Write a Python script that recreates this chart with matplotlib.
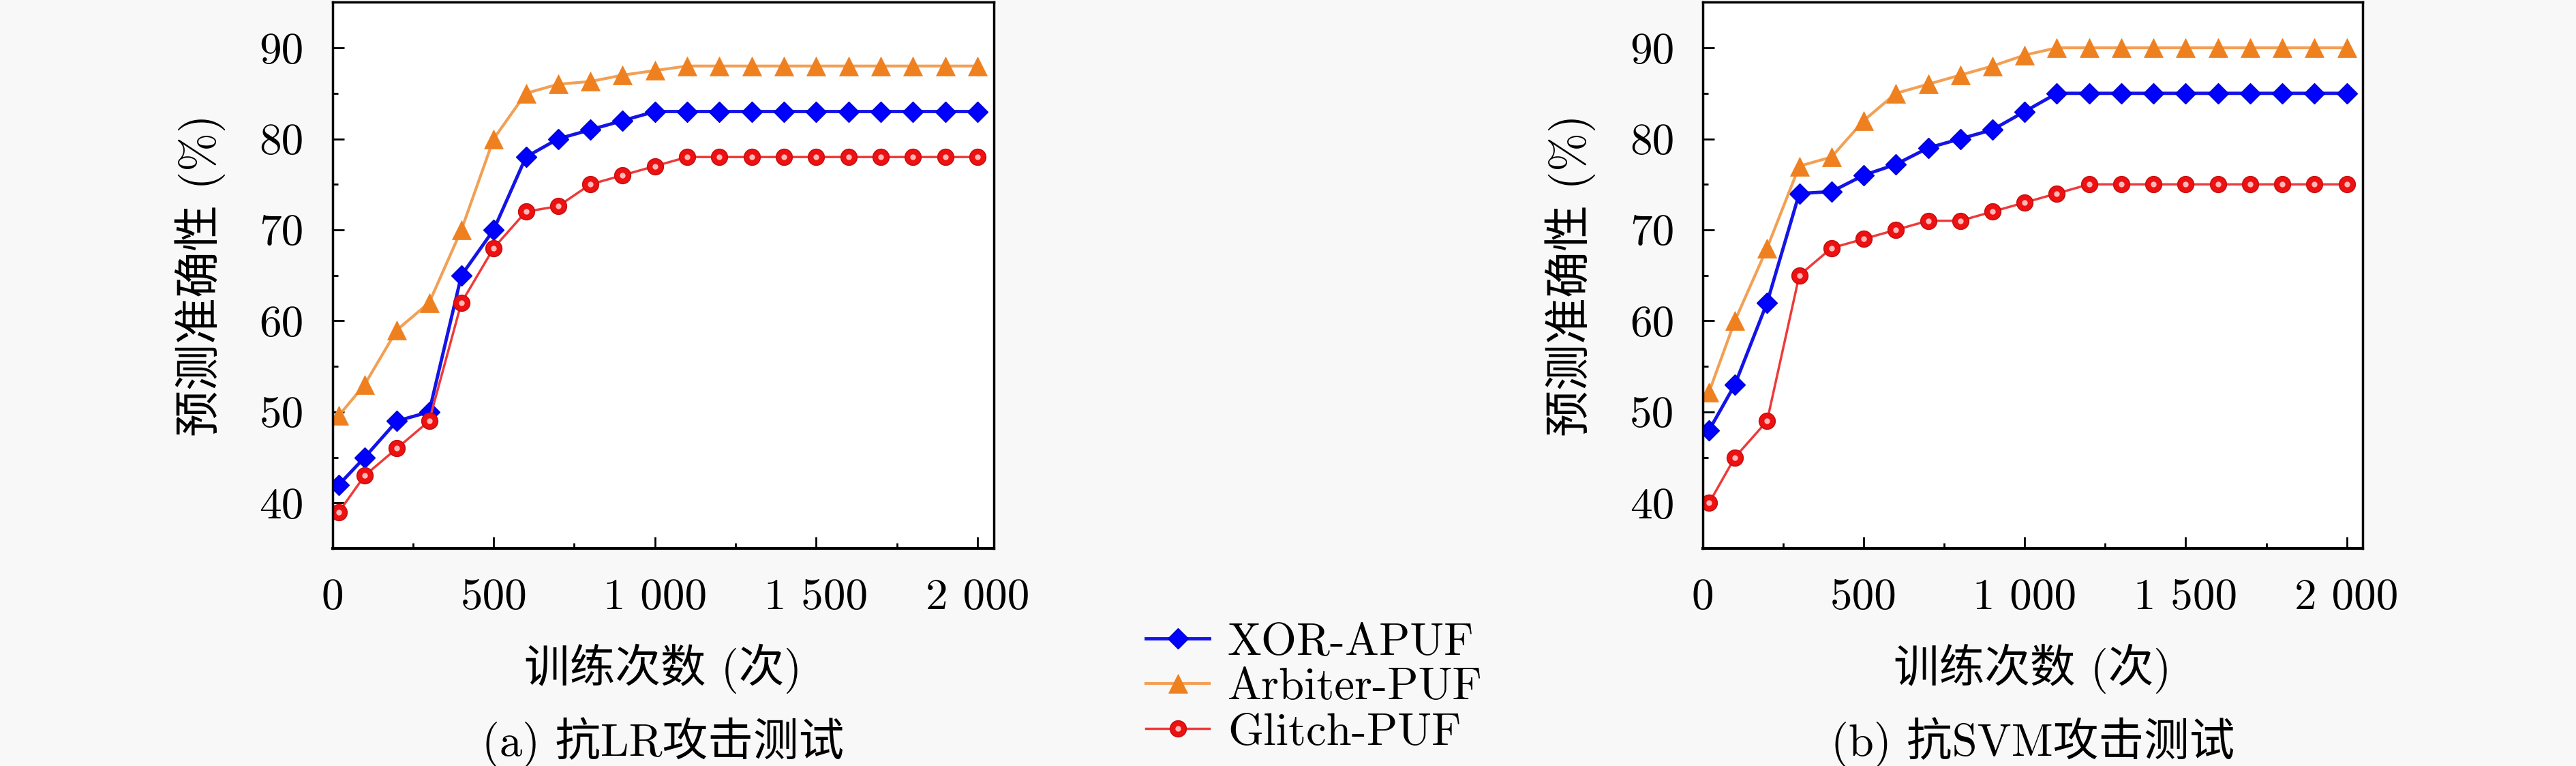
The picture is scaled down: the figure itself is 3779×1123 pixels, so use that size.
import matplotlib
matplotlib.use('Agg')
import matplotlib.pyplot as plt
from matplotlib.ticker import MultipleLocator

plt.rcParams['font.family'] = ['cmr10', 'Noto Sans CJK SC', 'DejaVu Sans']
plt.rcParams['axes.unicode_minus'] = False
plt.rcParams['mathtext.fontset'] = 'cm'

# training counts
x = [20, 100, 200, 300, 400, 500, 600, 700, 800, 900, 1000,
     1100, 1200, 1300, 1400, 1500, 1600, 1700, 1800, 1900, 2000]

# (a) LR attack
xor_lr = [42, 45, 49, 50, 65, 70, 78, 80, 81, 82, 83,
          83, 83, 83, 83, 83, 83, 83, 83, 83, 83]
arb_lr = [49.6, 53, 59, 62, 70, 80, 85, 86, 86.3, 87, 87.5,
          88, 88, 88, 88, 88, 88, 88, 88, 88, 88]
gli_lr = [39, 43, 46, 49, 62, 68, 72, 72.6, 75, 76, 77,
          78, 78, 78, 78, 78, 78, 78, 78, 78, 78]

# (b) SVM attack
xor_svm = [48, 53, 62, 74, 74.2, 76, 77.2, 79, 80, 81, 83,
           85, 85, 85, 85, 85, 85, 85, 85, 85, 85]
arb_svm = [52.2, 60, 68, 77, 78, 82, 85, 86, 87, 88, 89.2,
           90, 90, 90, 90, 90, 90, 90, 90, 90, 90]
gli_svm = [40, 45, 49, 65, 68, 69, 70, 71, 71, 72, 73,
           74, 75, 75, 75, 75, 75, 75, 75, 75, 75]

names = ['XOR-APUF', 'Arbiter-PUF', 'Glitch-PUF']
xticks = [0, 500, 1000, 1500, 2000]
xticklabels = ['0', '500', '1 000', '1 500', '2 000']
yticks = [40, 50, 60, 70, 80, 90]
captions = ['(a) 抗LR攻击测试', '(b) 抗SVM攻击测试']

fs = 47
bg = '#f8f8f8'

fig = plt.figure(figsize=(37.8, 11.23), dpi=100, facecolor=bg)
ax1 = fig.add_axes([0.129, 0.284, 0.2566, 0.713])
ax2 = fig.add_axes([0.6608, 0.284, 0.2562, 0.713])

handles = None
for ax, (xo, ar, gl), cap in zip([ax1, ax2],
                                 [(xor_lr, arb_lr, gli_lr), (xor_svm, arb_svm, gli_svm)],
                                 captions):
    l1, = ax.plot(x, xo, color='#1414e6', lw=3.5, marker='D', ms=15,
                  mfc='#0000ff', mec='#0000cc', mew=1)
    l2, = ax.plot(x, ar, color='#f2a055', lw=3, marker='^', ms=20,
                  mfc='#ee8020', mec='#ee8020', mew=0.5)
    l3, = ax.plot(x, gl, color='#ee3a3a', lw=2.5, marker='o', ms=17,
                  mfc='#ee1111', mec='#c81010', mew=1.2)
    l3h, = ax.plot(x, gl, ls='none', marker='o', ms=6,
                   mfc='#ffb8b8', mec='none')
    handles = [l1, l2, (l3, l3h)]

    ax.set_xlim(0, 2050)
    ax.set_ylim(35, 95)
    ax.set_xticks(xticks)
    ax.set_xticklabels(xticklabels)
    ax.set_yticks(yticks)
    ax.xaxis.set_minor_locator(MultipleLocator(250))
    ax.yaxis.set_minor_locator(MultipleLocator(5))
    ax.tick_params(which='major', direction='in', length=12, width=2,
                   labelsize=fs)
    ax.tick_params(which='minor', direction='in', length=6, width=2)
    ax.tick_params(axis='x', pad=32)
    ax.tick_params(axis='y', pad=30)
    for s in ax.spines.values():
        s.set_linewidth(2.5)
    ax.spines['bottom'].set_linewidth(3)
    ax.set_facecolor('white')

    ax.text(-0.2, 0.5, '预测准确性 (%)', transform=ax.transAxes, rotation=90,
            ha='center', va='center', fontsize=49)
    ax.text(0.5, -0.22, '训练次数 (次)', transform=ax.transAxes,
            ha='center', va='center', fontsize=48)
    ax.text(0.5, -0.355, cap, transform=ax.transAxes,
            ha='center', va='center', fontsize=48)

fig.legend(handles, names, loc='center', bbox_to_anchor=(0.51, 0.102),
           frameon=False, fontsize=48, handlelength=1.4, handletextpad=0.4,
           labelspacing=0.1)

fig.savefig('out.png', dpi=100, facecolor=bg)
